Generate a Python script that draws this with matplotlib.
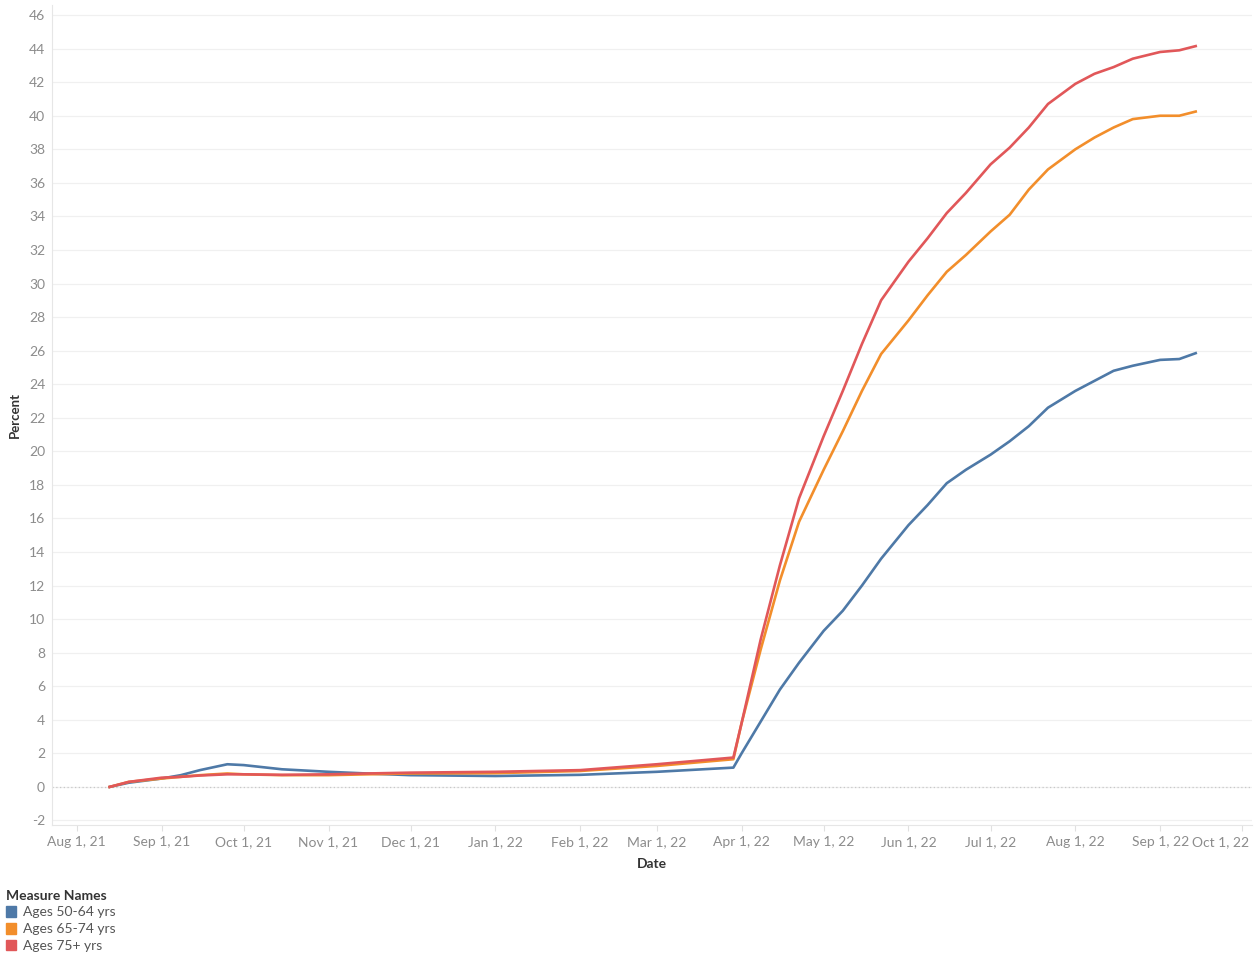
import matplotlib
matplotlib.use("Agg")
import matplotlib.pyplot as plt
import matplotlib.transforms as mtransforms
from matplotlib.patches import Patch
import pandas as pd

plt.rcParams["font.family"] = ["Lato", "DejaVu Sans"]
plt.rcParams["axes.unicode_minus"] = False

# weekly-ish readings (percent)
dates = [
    "2021-08-13", "2021-08-20", "2021-09-01", "2021-09-08", "2021-09-15", "2021-09-25",
    "2021-10-01", "2021-10-15", "2021-11-01", "2021-11-15", "2021-12-01", "2022-01-01",
    "2022-02-01", "2022-03-01", "2022-03-29", "2022-04-01", "2022-04-08", "2022-04-15",
    "2022-04-22", "2022-05-01", "2022-05-08", "2022-05-15", "2022-05-22", "2022-06-01",
    "2022-06-08", "2022-06-15", "2022-06-22", "2022-07-01", "2022-07-08", "2022-07-15",
    "2022-07-22", "2022-08-01", "2022-08-08", "2022-08-15", "2022-08-22", "2022-09-01",
    "2022-09-08", "2022-09-14",
]
ages_50_64 = [
    0.0, 0.25, 0.5, 0.7, 1.0, 1.35,
    1.3, 1.05, 0.9, 0.8, 0.7, 0.65,
    0.72, 0.9, 1.15, 2.0, 3.9, 5.8,
    7.4, 9.3, 10.5, 12.0, 13.6, 15.6,
    16.8, 18.1, 18.9, 19.8, 20.6, 21.5,
    22.6, 23.6, 24.2, 24.8, 25.1, 25.45,
    25.5, 25.85,
]
ages_65_74 = [
    0.0, 0.3, 0.5, 0.6, 0.7, 0.8,
    0.75, 0.7, 0.7, 0.75, 0.8, 0.82,
    0.95, 1.25, 1.65, 3.8, 8.2, 12.3,
    15.8, 18.9, 21.2, 23.6, 25.8, 27.8,
    29.3, 30.7, 31.7, 33.1, 34.1, 35.6,
    36.8, 38.0, 38.7, 39.3, 39.8, 40.0,
    40.0, 40.25,
]
ages_75_plus = [
    0.0, 0.3, 0.55, 0.6, 0.68, 0.75,
    0.75, 0.72, 0.75, 0.8, 0.85, 0.9,
    1.0, 1.35, 1.75, 3.8, 8.8, 13.2,
    17.2, 20.9, 23.6, 26.4, 29.0, 31.3,
    32.7, 34.2, 35.4, 37.1, 38.1, 39.3,
    40.7, 41.9, 42.5, 42.9, 43.4, 43.8,
    43.9, 44.15,
]
series_names = ["Ages 50-64 yrs", "Ages 65-74 yrs", "Ages 75+ yrs"]
colors = ["#4e79a7", "#f28e2b", "#e15759"]

tick_dates = ["2021-08-01", "2021-09-01", "2021-10-01", "2021-11-01", "2021-12-01",
              "2022-01-01", "2022-02-01", "2022-03-01", "2022-04-01", "2022-05-01",
              "2022-06-01", "2022-07-01", "2022-08-01", "2022-09-01", "2022-10-01"]
tick_labels = ["Aug 1, 21", "Sep 1, 21", "Oct 1, 21", "Nov 1, 21", "Dec 1, 21",
               "Jan 1, 22", "Feb 1, 22", "Mar 1, 22", "Apr 1, 22", "May 1, 22",
               "Jun 1, 22", "Jul 1, 22", "Aug 1, 22", "Sep 1, 22", "Oct 1, 22"]

x = pd.to_datetime(dates)

fig = plt.figure(figsize=(12.58, 9.58), dpi=100)
ax = fig.add_axes([52 / 1258, 1 - 825 / 958, 1200 / 1258, 820 / 958])

for vals, name, c in zip([ages_50_64, ages_65_74, ages_75_plus], series_names, colors):
    ax.plot(x, vals, color=c, lw=1.9, label=name, solid_joinstyle="round")

ax.set_xlim(pd.Timestamp("2021-07-22 22:00"), pd.Timestamp("2022-10-04 14:00"))
ax.set_ylim(-2.27, 46.6)
ax.set_yticks(range(-2, 47, 2))
ax.grid(axis="y", color="#f0f0f0", lw=0.9)
ax.axhline(0, color="#c8c8c8", lw=0.9, ls=(0, (1, 2)), zorder=1)
ax.set_axisbelow(True)

ax.set_xticks(pd.to_datetime(tick_dates))
ax.set_xticklabels(tick_labels)

for s in ["top", "right"]:
    ax.spines[s].set_visible(False)
for s in ["left", "bottom"]:
    ax.spines[s].set_color("#e6e6e6")
ax.tick_params(axis="x", colors="#e0e0e0", labelcolor="#8c8c8c", labelsize=10,
               length=4, pad=11)
ax.tick_params(axis="y", length=0, labelcolor="#8c8c8c", labelsize=10, pad=5)

for lab in ax.get_xticklabels():
    lab.set_verticalalignment("baseline")
# last label is pushed left to stay inside the view, like the original
last = ax.get_xticklabels()[-1]
last.set_horizontalalignment("right")
last.set_transform(last.get_transform() +
                   mtransforms.ScaledTranslation(7 / 100, 0, fig.dpi_scale_trans))

ax.set_xlabel("Date", fontsize=10, fontweight="bold", color="#333333", labelpad=7)
ax.set_ylabel("Percent", fontsize=9.5, fontweight="bold", color="#333333", labelpad=6)

handles = [Patch(color=c) for c in colors]
leg = fig.legend(handles, series_names, title="Measure Names", loc="upper left",
                 bbox_to_anchor=(0.0, 1 - 884 / 958), frameon=False, fontsize=10,
                 title_fontsize=10, handlelength=0.75, handleheight=0.75,
                 handletextpad=0.5, labelspacing=0.35, borderpad=0.2,
                 borderaxespad=0.2)
leg.get_title().set_fontweight("bold")
leg.get_title().set_color("#333333")
leg._legend_box.align = "left"
for t in leg.get_texts():
    t.set_color("#555555")

fig.savefig("out.png", dpi=100)
